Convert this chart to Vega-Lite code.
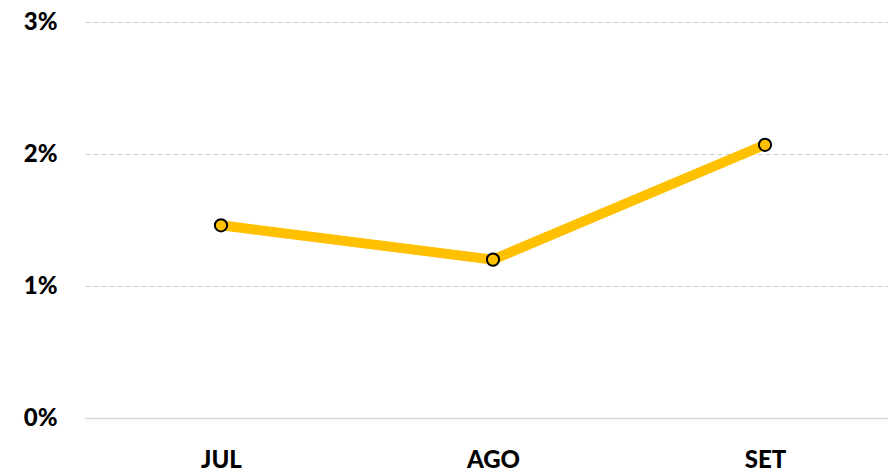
{
  "$schema": "https://vega.github.io/schema/vega-lite/v6.json",
  "autosize": "none",
  "width": 816,
  "height": 396,
  "padding": {"left": 85, "top": 22, "right": 0, "bottom": 53},
  "background": "white",
  "config": {
    "view": {"stroke": null},
    "font": "Lato"
  },
  "data": {
    "values": [
      {"mes": "JUL", "valor": 0.0146},
      {"mes": "AGO", "valor": 0.0120},
      {"mes": "SET", "valor": 0.0207}
    ]
  },
  "encoding": {
    "x": {
      "field": "mes",
      "type": "ordinal",
      "sort": null,
      "scale": {"type": "point", "padding": 0.5},
      "axis": {
        "title": null,
        "labelAngle": 0,
        "labelFont": "Lato",
        "labelFontSize": 24,
        "labelFontWeight": 900,
        "labelColor": "#000000",
        "labelPadding": 30,
        "ticks": false,
        "domain": true,
        "domainColor": "#d9d9d9",
        "domainWidth": 1.5,
        "grid": false
      }
    },
    "y": {
      "field": "valor",
      "type": "quantitative",
      "scale": {"domain": [0, 0.03], "nice": false},
      "axis": {
        "title": null,
        "values": [0, 0.01, 0.02, 0.03],
        "format": ".0%",
        "labelFont": "Lato",
        "labelFontSize": 24,
        "labelFontWeight": 900,
        "labelColor": "#000000",
        "labelPadding": 28,
        "ticks": false,
        "domain": false,
        "grid": true,
        "gridColor": "#cfcfcf",
        "gridDash": [5, 3],
        "gridWidth": 1.2
      }
    }
  },
  "layer": [
    {
      "mark": {"type": "line", "color": "#FFC000", "strokeWidth": 10}
    },
    {
      "mark": {"type": "point", "filled": true, "fill": "#FFC000", "stroke": "#000000", "strokeWidth": 2, "size": 150, "opacity": 1}
    }
  ]
}
